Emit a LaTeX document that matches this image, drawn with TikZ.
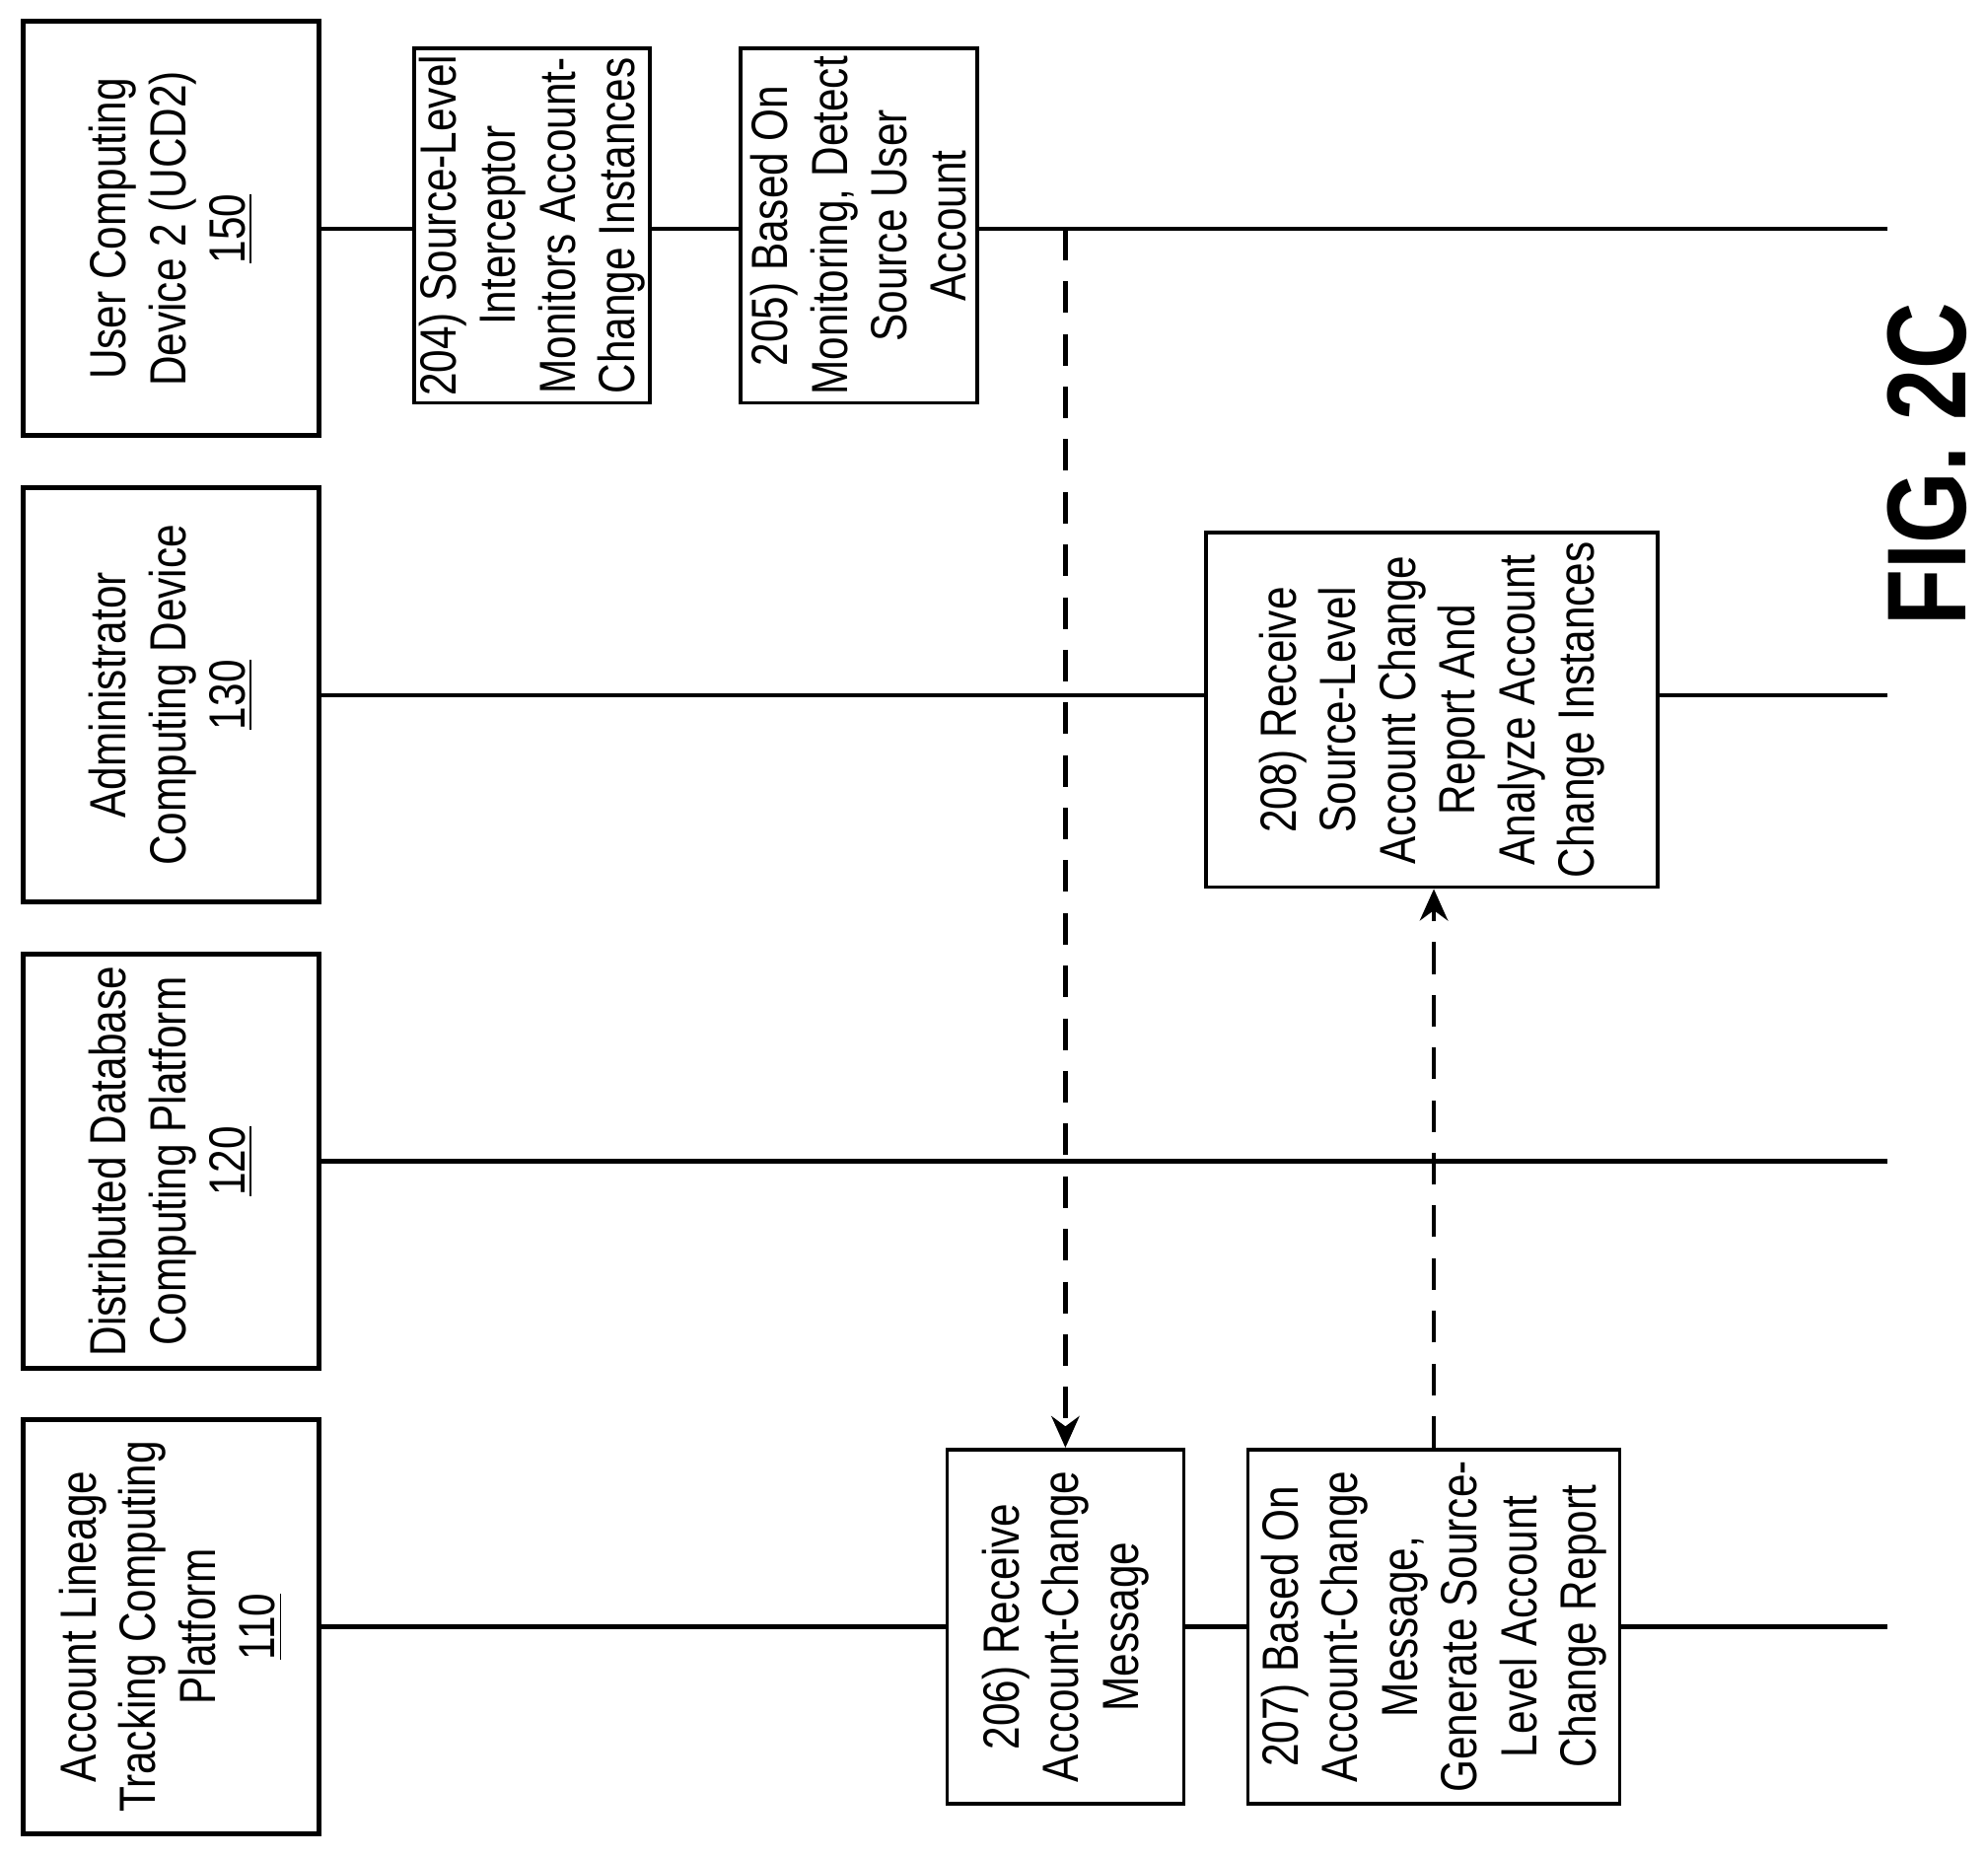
\documentclass[tikz,border=0pt]{standalone}
\usepackage{fontspec}
\setmainfont{Liberation Sans}[FakeStretch=0.82]
\usetikzlibrary{arrows.meta}
\def\boxfont{\fontsize{14.5}{17}\selectfont}

\begin{document}
\begin{tikzpicture}[
    every node/.style={font=\boxfont},
    entity/.style={draw, line width=1.4pt, rotate=90, align=center, minimum width=4.15cm, minimum height=2.96cm, inner sep=1pt},
    stepbox/.style={draw, fill=white, line width=1pt, rotate=90, align=center, minimum width=3.55cm, inner sep=1pt},
    life/.style={line width=1.2pt},
    msg/.style={line width=1.2pt, dash pattern=on 9pt off 6pt, -{Stealth[length=9pt,width=8pt]}}
  ]
      \useasboundingbox (0, 0) rectangle (19.91, -18.59);

      % entities
      \node[entity] (ucd) at (1.71, -2.29) {User Computing\\Device 2 (UCD2)\\\underline{150}};
      \node[entity] (admin) at (1.71, -6.96) {Administrator\\Computing Device\\\underline{130}};
      \node[entity] (ddb) at (1.71, -11.63) {Distributed Database\\Computing Platform\\\underline{120}};
      \node[entity] (alt) at (1.71, -16.29) {Account Lineage\\Tracking Computing\\Platform\\\underline{110}};

      % lifelines
      \coordinate (ucdend) at (18.90, -2.29);
      \coordinate (adminend) at (18.90, -6.96);
      \coordinate (ddbend) at (18.90, -11.63);
      \coordinate (altend) at (18.90, -16.29);
      \draw[life] (ucd.south) -- (ucdend);
      \draw[life] (admin.south) -- (adminend);
      \draw[life] (ddb.south) -- (ddbend);
      \draw[life] (alt.south) -- (altend);

      % steps
      \node[stepbox, minimum height=2.36cm] (s204) at (5.33, -2.26) {204) Source-Level\\Interceptor\\Monitors Account-\\Change Instances};
      \node[stepbox, minimum height=2.37cm] (s205) at (8.60, -2.26) {205) Based On\\Monitoring, Detect\\Source User\\Account};
      \node[stepbox, minimum height=4.52cm] (s208) at (14.34, -7.11) {208) Receive\\Source-Level\\Account Change\\Report And\\Analyze Account\\Change Instances};
      \node[stepbox, minimum height=2.37cm] (s206) at (10.67, -16.29) {206) Receive\\Account-Change\\Message};
      \node[stepbox, minimum height=3.72cm] (s207) at (14.36, -16.29) {207) Based On\\Account-Change\\Message,\\Generate Source-\\Level Account\\Change Report};

      % messages
      \coordinate (src) at (10.67, -2.29);
      \draw[msg] (src) -- (s206.east);
      \draw[msg] (s207.east) -- (s207.east |- s208.west);

      \node[rotate=90, font=\fontsize{32}{38}\selectfont\bfseries] (fig) at (19.30, -4.65) {FIG. 2C};
\end{tikzpicture}
\end{document}
